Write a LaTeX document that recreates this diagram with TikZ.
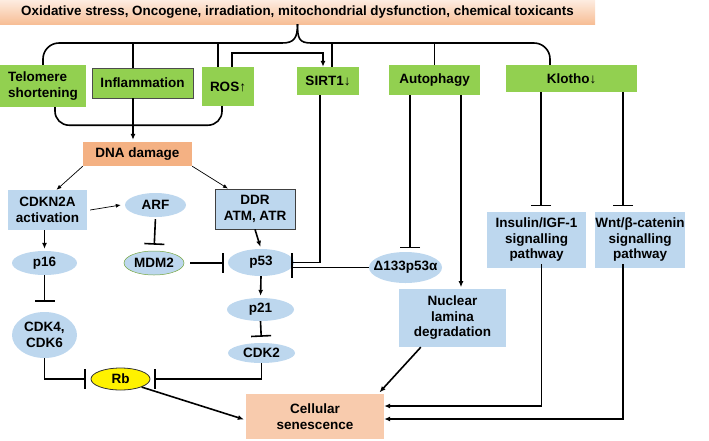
\documentclass[tikz,border=0pt]{standalone}
\usepackage{fontspec}
\setmainfont{Liberation Sans}
\usetikzlibrary{arrows.meta,shapes.geometric,positioning}

\definecolor{leafgreen}{RGB}{146,208,80}
\definecolor{paleblue}{RGB}{189,215,238}
\definecolor{salmon}{RGB}{244,177,131}
\definecolor{peach}{RGB}{248,203,173}
\definecolor{peachtop}{RGB}{253,236,224}
\definecolor{peachbot}{RGB}{247,190,150}

\begin{document}
\begin{tikzpicture}[x=1pt,y=-1pt,
        font=\fontsize{13.5}{15.5}\selectfont\bfseries,
        box/.style={rectangle,inner sep=0pt,align=center},
        greenbox/.style={box,fill=leafgreen},
        bluebox/.style={box,fill=paleblue},
        prot/.style={ellipse,fill=paleblue,inner sep=0pt,align=center},
        line/.style={line width=1.6pt},
        arr/.style={line,-{Latex[length=6pt,width=5pt]},shorten >=2pt},
        thin/.style={line width=0.7pt,-{Latex[length=5pt,width=4pt]}},
        inh/.style={line,-{Bar[width=20pt]}}]
        \useasboundingbox (0,0) rectangle (709,440);

        % stress sources
        \node[box,minimum width=595pt,minimum height=24pt,top color=peachtop,
                bottom color=peachbot,font=\fontsize{13.4}{15}\selectfont\bfseries]
                (top) at (297.5,12) {Oxidative stress, Oncogene, irradiation, mitochondrial dysfunction, chemical toxicants};

        \node[greenbox,minimum width=86pt,minimum height=42pt,align=left] (telo) at (43,86) {Telomere\\shortening};
        \node[greenbox,minimum width=101pt,minimum height=30pt,draw=black!70,line width=0.8pt] (infl) at (142.5,83) {Inflammation};
        \node[greenbox,minimum width=52pt,minimum height=39pt] (ros) at (228,86.5) {ROS↑};
        \node[greenbox,minimum width=62pt,minimum height=28pt] (sirt) at (328,81) {SIRT1↓};
        \node[greenbox,minimum width=91pt,minimum height=30pt] (auto) at (434.5,80) {Autophagy};
        \node[greenbox,minimum width=131pt,minimum height=27pt] (klotho) at (571.5,78.5) {Klotho↓};

        % pathway
        \node[box,fill=salmon,minimum width=109pt,minimum height=24pt] (dna) at (137.5,154) {DNA damage};
        \node[bluebox,minimum width=79pt,minimum height=40pt] (cdkn) at (47.5,210) {CDKN2A\\activation};
        \node[prot,minimum width=61pt,minimum height=24pt] (arf) at (155.5,205) {ARF};
        \node[bluebox,minimum width=80pt,minimum height=40pt,draw=black!75,line width=0.8pt] (ddr) at (255,209) {DDR\\ATM, ATR};
        \node[prot,minimum width=65pt,minimum height=24pt] (p16) at (44.5,263) {p16};
        \node[prot,minimum width=60pt,minimum height=24pt,draw=leafgreen!80!black,line width=0.5pt] (mdm2) at (154,263) {MDM2};
        \node[prot,minimum width=66pt,minimum height=27pt] (p53) at (261,262.5) {p53};
        \node[prot,minimum width=73pt,minimum height=31pt,inner xsep=-7pt] (d133) at (405.5,267.5) {Δ133p53α};
        \node[prot,minimum width=65pt,minimum height=46pt] (cdk46) at (44.5,335) {CDK4,\\CDK6};
        \node[prot,minimum width=67pt,minimum height=23pt] (p21) at (260.5,309.5) {p21};
        \node[prot,minimum width=67pt,minimum height=20pt] (cdk2) at (261.5,353) {CDK2};
        \node[ellipse,fill=yellow,draw=black!80,line width=0.8pt,inner sep=0pt,
                minimum width=59pt,minimum height=22pt] (rb) at (120.5,379) {Rb};
        \node[bluebox,minimum width=107pt,minimum height=58pt] (nucl) at (452.5,318) {Nuclear\\lamina\\degradation};
        \node[bluebox,minimum width=99pt,minimum height=56pt] (ins) at (536.5,240) {Insulin/IGF-1\\signalling\\pathway};
        \node[bluebox,minimum width=90pt,minimum height=56pt] (wnt) at (640,240) {Wnt/β-catenin\\signalling\\pathway};
        \node[box,fill=peach,minimum width=138pt,minimum height=45pt] (sen) at (315,416.5) {Cellular\\senescence};

        % brace under the stress sources
        \coordinate (brL) at (282,43);
        \coordinate (brR) at (311,43);
        \draw[line] (top.south) .. controls +(0,14) and +(12,0) .. (brL);
        \draw[line] (top.south) .. controls +(0,14) and +(-12,0) .. (brR);
        \draw[line,rounded corners=16pt] (brL) -| (telo.north);
        \draw[line,rounded corners=16pt] (brR) -| ([xshift=-21.5pt]klotho.north);
        \draw[line] ([xshift=-9.5pt]infl.north) -- ++(0,-25);
        \draw[line] ([xshift=-10pt]ros.north) -- ++(0,-24);
        \draw[line] ([xshift=4pt]sirt.north) -- ++(0,-24);
        \draw[line] (auto.north) -- ++(0,-22);
        \draw[arr,shorten >=0pt] ([xshift=4pt]ros.north) -- ++(0,-14) -| ([xshift=-5pt]sirt.north);

        % brace into DNA damage
        \draw[line,rounded corners=14pt] ([xshift=12pt]telo.south) -- ++(0,18) -| ([xshift=-6pt]ros.south);
        \draw[arr] ([xshift=-9.5pt]infl.south) -- ([xshift=-4.5pt]dna.north);

        \draw[thin] (dna.south west) -- ([xshift=9pt]cdkn.north);
        \draw[thin] (dna.south east) -- ([xshift=-27pt]ddr.north);
        \draw[thin] ([xshift=3pt]cdkn.east) -- ([xshift=-4pt]arf.west);
        \draw[arr] (p16.north |- cdkn.south) -- (p16.north);
        \draw[arr] (ddr.south) -- (p53.north);
        \draw[inh,shorten <=2pt,shorten >=6pt] (arf.south) -- (mdm2.north);
        \draw[inh,shorten <=6pt,shorten >=4pt] (mdm2.east) -- (mdm2.east -| p53.west);
        \draw[inh,shorten >=-3pt] ([xshift=-8pt]sirt.south) |- (p53.east);
        \draw[inh,shorten >=-3pt] (d133.west) -- (d133.west -| p53.east);
        \draw[inh] ([xshift=-24.5pt]auto.south) -- ++(0,153);
        \draw[arr,shorten >=0pt] ([xshift=26.5pt]auto.south) -- ++(0,192);
        \draw[inh] ([xshift=-30.5pt]klotho.south) -- ++(0,114);
        \draw[inh] ([xshift=51.5pt]klotho.south) -- ++(0,114);

        \draw[inh,shorten >=10pt] (p16.south) -- (cdk46.north);
        \draw[arr] (p53.south) -- (p21.north);
        \draw[inh,shorten >=6pt] (p21.south) -- (cdk2.north);
        \draw[inh,shorten >=5pt] (cdk46.south) |- (rb.west);
        \draw[inh,shorten >=4pt] (cdk2.south) |- (rb.east);

        % into senescence
        \draw[arr] (rb.south east) -- ([yshift=-3.5pt]sen.west);
        \draw[arr] ([xshift=22pt]nucl.south west) -- ([xshift=-6pt]sen.north east);
        \draw[arr,shorten >=0pt] ([xshift=5pt,yshift=4pt]ins.south) |- ([yshift=10.5pt]sen.east);
        \draw[arr,shorten >=0pt] ([xshift=-17pt,yshift=4pt]wnt.south) |- ([yshift=-2.5pt]sen.east);
\end{tikzpicture}
\end{document}
